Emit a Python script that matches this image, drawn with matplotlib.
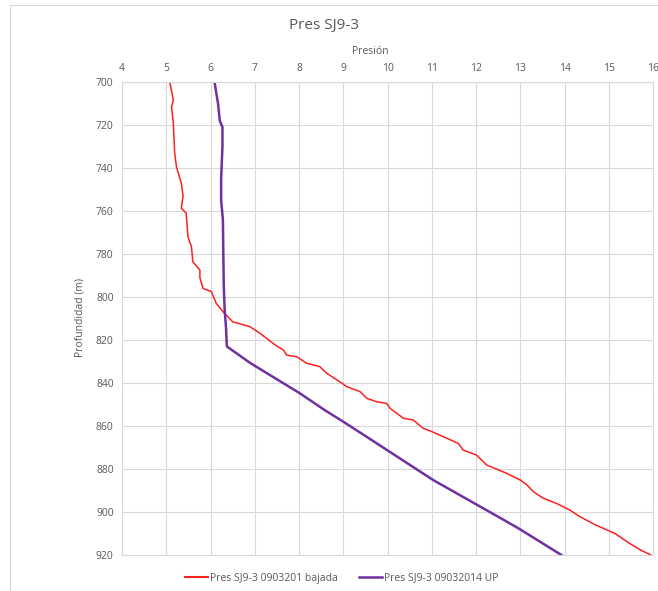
import matplotlib.pyplot as plt
from matplotlib.lines import Line2D

plt.rcParams['font.family'] = ['Open Sans', 'DejaVu Sans']

# Sensor run going down (bajada): depth (m) and pressure
depth_bajada = [700, 708.4, 711.5, 719, 733, 739.4, 747, 753, 758.7, 761, 772, 776.6,
                783.6, 787.4, 791, 796, 797.5, 803, 806.8, 811.5, 813.8, 816.9, 822.3,
                824.7, 827, 827.8, 830.8, 832.4, 835.5, 840.1, 841.7, 844, 847.1, 848.7,
                849.5, 851.8, 854.1, 856.4, 857.2, 861.1, 862.6, 865.7, 868.1, 871.2,
                873.5, 878.1, 882, 885.1, 887.4, 890.6, 893.6, 896, 899.1, 902.2, 906,
                910, 915, 918, 920]
pres_bajada = [5.08, 5.16, 5.12, 5.16, 5.19, 5.23, 5.34, 5.38, 5.34, 5.45, 5.49, 5.57,
               5.60, 5.76, 5.76, 5.83, 6.02, 6.13, 6.28, 6.50, 6.89, 7.12, 7.46,
               7.65, 7.72, 7.95, 8.17, 8.47, 8.63, 8.97, 9.08, 9.38, 9.53, 9.75,
               9.98, 10.06, 10.21, 10.36, 10.58, 10.81, 11.0, 11.34, 11.6, 11.71,
               12.01, 12.24, 12.69, 13.0, 13.15, 13.3, 13.52, 13.82, 14.12, 14.35, 14.7,
               15.14, 15.5, 15.75, 15.95]

# Sensor run going up (UP)
depth_up = [700, 705, 710, 718, 721, 730, 745, 755, 764, 780, 795, 806, 814, 823,
            830.6, 844.8, 852.6, 858, 865.7, 871.2, 885.1, 886.5, 902.2, 907.6, 920]
pres_up = [6.09, 6.13, 6.17, 6.21, 6.27, 6.27, 6.24, 6.24, 6.28, 6.29, 6.30, 6.32, 6.35, 6.37,
           6.89, 8.02, 8.58, 9.0, 9.58, 9.99, 11.03, 11.15, 12.5, 12.96, 13.93]

x_ticks = list(range(4, 17))
y_ticks = list(range(700, 921, 20))

label_bajada = "Pres SJ9-3 0903201 bajada"
label_up = "Pres SJ9-3 09032014 UP"

text_grey = "#595959"
grid_grey = "#d9d9d9"
red = "#ff2020"
purple = "#7030a0"

fig = plt.figure(figsize=(6.58, 5.91), dpi=100)
ax = fig.add_axes([122 / 658, 1 - 555 / 591, (653 - 122) / 658, (555 - 82) / 591])

ax.plot(pres_bajada, depth_bajada, color=red, lw=1.1)
ax.plot(pres_up, depth_up, color=purple, lw=1.8)

ax.set_xlim(4, 16)
ax.set_ylim(920, 700)
ax.set_xticks(x_ticks)
ax.set_yticks(y_ticks)
ax.xaxis.tick_top()
ax.tick_params(length=0, labelsize=7.5, labelcolor=text_grey, pad=6)
ax.grid(True, color=grid_grey, lw=0.8)
ax.set_axisbelow(True)
for s in ax.spines.values():
    s.set_color(grid_grey)
    s.set_linewidth(0.8)

fig.text(370 / 658, 1 - 52 / 591, "Presión", ha='center', va='center',
         fontsize=7.5, color=text_grey)
fig.text(80 / 658, 1 - 318 / 591, "Profundidad (m)", ha='center', va='center',
         rotation=90, fontsize=7.5, color=text_grey)
fig.text(324 / 658, 1 - 25 / 591, "Pres SJ9-3", ha='center', va='center',
         fontsize=11, color=text_grey)

handles = [Line2D([], [], color=red, lw=1.5), Line2D([], [], color=purple, lw=1.8)]
fig.legend(handles, [label_bajada, label_up], loc='center', ncol=2,
           bbox_to_anchor=(342 / 658, 1 - 578 / 591), frameon=False,
           fontsize=7.5, labelcolor=text_grey, handlelength=2.2,
           handletextpad=0.2, columnspacing=2.0)

# thin chart-area border
fig.add_artist(Line2D([10 / 658, 10 / 658], [0, 1 - 5 / 591], transform=fig.transFigure,
                      color=grid_grey, lw=0.8))
fig.add_artist(Line2D([10 / 658, 1], [1 - 5 / 591, 1 - 5 / 591], transform=fig.transFigure,
                      color=grid_grey, lw=0.8))

fig.savefig("out.png", dpi=100)
